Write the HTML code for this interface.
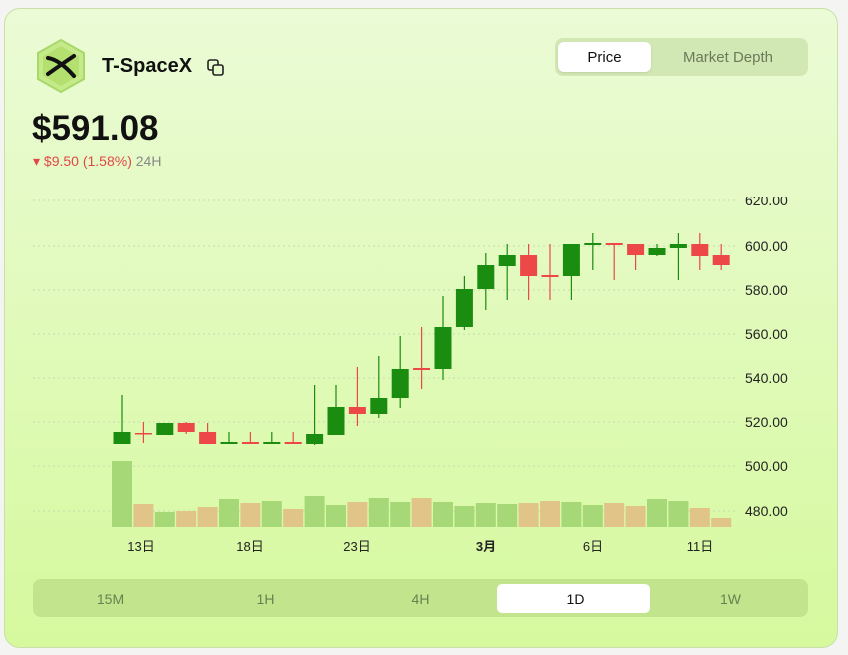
<!DOCTYPE html>
<html><head><meta charset="utf-8"><style>
body{margin:0;width:848px;height:655px;background:#f4f5f2;font-family:"Liberation Sans","Noto Sans CJK JP",sans-serif;position:relative;overflow:hidden}
.card{position:absolute;left:4px;top:8px;width:832px;height:638px;border-radius:16px;border:1px solid #c9e0a8;background:linear-gradient(#ebfbd6,#d6f99e)}
.abs{position:absolute}
</style></head><body>
<div class="card"></div>
<svg class="abs" style="left:34px;top:38px" width="54" height="56" viewBox="0 0 54 56">
<polygon points="27,2 50,15 50,41 27,54 4,41 4,15" fill="#c5ea8a" stroke="#a8d86a" stroke-width="2"/>
<polygon points="27,8 45,18.5 45,37.5 27,48 9,37.5 9,18.5" fill="#b4e070"/>
<path d="M14 20 Q26 22 40 38 M40 18 Q28 26 14 36" stroke="#111" stroke-width="4" fill="none" stroke-linecap="round"/>
</svg>
<div class="abs" style="left:102px;top:55px;font-size:20px;font-weight:bold;color:#111">T-SpaceX</div>
<svg class="abs" style="left:207px;top:59px" width="18" height="18"><rect x="1" y="1" width="10" height="10" rx="2" fill="none" stroke="#222" stroke-width="1.6"/><rect x="6" y="6" width="10" height="10" rx="2" fill="#e4fbcc" stroke="#222" stroke-width="1.6"/></svg>
<div class="abs" style="left:32px;top:109px;font-size:35px;font-weight:bold;color:#111">$591.08</div>
<div class="abs" style="left:33px;top:153px;font-size:14px;color:#e04848">▾ $9.50 (1.58%) <span style="color:#888">24H</span></div>
<div class="abs" style="left:555px;top:38px;width:253px;height:38px;border-radius:8px;background:#d2e8b4"></div>
<div class="abs" style="left:558px;top:42px;width:93px;height:30px;border-radius:6px;background:#fff;box-shadow:0 1px 2px rgba(0,0,0,.1);text-align:center;line-height:31px;font-size:15px;color:#111">Price</div>
<div class="abs" style="left:651px;top:42px;width:154px;height:30px;text-align:center;line-height:31px;font-size:15px;color:#6a7a5a">Market Depth</div>
<div class="abs" style="left:0;top:197px;width:848px;height:363px;overflow:hidden">
<svg class="abs" style="left:0;top:-197px" width="848" height="560" id="ch"></svg>
</div>
<div class="abs" style="left:33px;top:579px;width:775px;height:38px;border-radius:8px;background:#c2e48c"></div>
<div class="abs" style="left:497px;top:584px;width:153px;height:29px;border-radius:5px;background:#fff"></div>
<div class="abs" style="left:33px;top:579px;width:775px;height:38px;display:flex;font-size:14px;line-height:40px;color:#6a8050;text-align:center">
<div style="flex:1">15M</div><div style="flex:1">1H</div><div style="flex:1">4H</div><div style="flex:1;color:#111">1D</div><div style="flex:1">1W</div></div>
<script>
var s='';
[200,246,290,334,378,422,466,511].forEach(function(y){s+='<line x1="33" x2="735" y1="'+y+'" y2="'+y+'" stroke="#c8dcb0" stroke-dasharray="2 3"/>';});
['620.00','600.00','580.00','560.00','540.00','520.00','500.00','480.00'].forEach(function(t,i){var y=[200,246,290,334,378,422,466,511][i];s+='<text x="745" y="'+(y+5)+'" font-size="14" fill="#222">'+t+'</text>';});
var c=[[1,432,444,395,444],[0,433,434,422,443],[1,423,435,423,435],[0,423,432,422,434],[0,432,444,423,444],[1,442,444,432,444],[0,442,444,432,444],[1,442,444,432,444],[0,442,444,432,444],[1,434,444,385,445],[1,407,435,385,435],[0,407,414,367,426],[1,398,414,356,418],[1,369,398,336,408],[0,368,370,327,389],[1,327,369,296,380],[1,289,327,276,330],[1,265,289,253,310],[1,255,266,244,300],[0,255,276,244,300],[0,275,277,244,300],[1,244,276,244,300],[1,243,245,233,270],[0,243,245,244,280],[0,244,255,244,270],[1,248,255,244,256],[1,244,248,233,280],[0,244,256,233,270],[0,255,265,244,270]];
var v=[[1,461],[0,504],[1,512],[0,511],[0,507],[1,499],[0,503],[1,501],[0,509],[1,496],[1,505],[0,502],[1,498],[1,502],[0,498],[1,502],[1,506],[1,503],[1,504],[0,503],[0,501],[1,502],[1,505],[0,503],[0,506],[1,499],[1,501],[0,508],[0,518]];
for(var i=0;i<29;i++){var x=122+i*21.4;var b=v[i];s+='<rect x="'+(x-10)+'" y="'+b[1]+'" width="20" height="'+(527-b[1])+'" fill="'+(b[0]?'#a6d878':'#e0c488')+'"/>';}
for(var i=0;i<29;i++){var x=122+i*21.4,d=c[i],col=d[0]?'#1a8c10':'#ec4848';s+='<line x1="'+x+'" x2="'+x+'" y1="'+d[3]+'" y2="'+d[4]+'" stroke="'+col+'" stroke-width="1.2"/>';var h=Math.max(d[2]-d[1],1.5);s+='<rect x="'+(x-8.5)+'" y="'+d[1]+'" width="17" height="'+h+'" fill="'+col+'"/>';}
[['13日',141,0],['18日',250,0],['23日',357,0],['3月',486,1],['6日',593,0],['11日',700,0]].forEach(function(t){s+='<text x="'+t[1]+'" y="551" font-size="13" text-anchor="middle" fill="#222"'+(t[2]?' font-weight="bold"':'')+'>'+t[0]+'</text>';});
document.getElementById('ch').innerHTML=s;
</script>
</body></html>
